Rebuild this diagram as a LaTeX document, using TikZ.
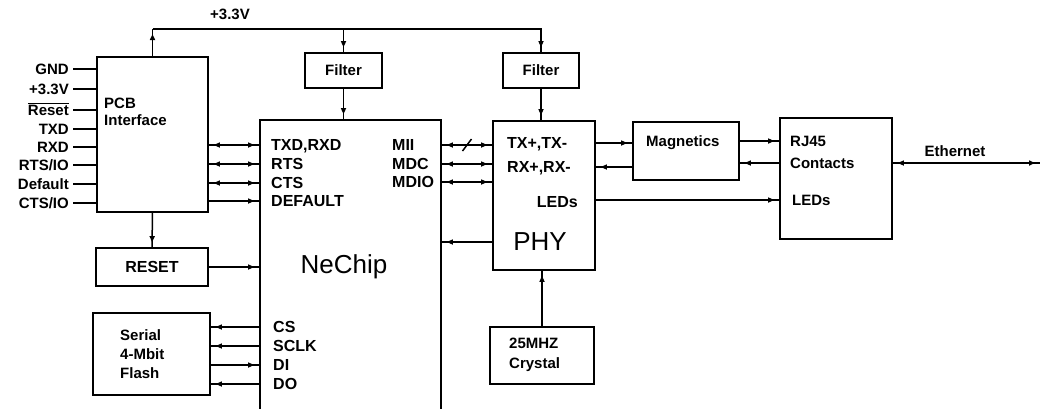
\documentclass[tikz,border=0pt]{standalone}
\usepackage{fontspec}
\setmainfont{Liberation Sans}
\usetikzlibrary{arrows.meta, decorations.markings}
\tikzset{
  % outlined block
  BX/.style={rectangle,draw,line width=1.7pt,inner sep=0pt,
             font=\fontsize{15}{15}\selectfont\bfseries},
  % pin names at the interface
  PN/.style={inner sep=0pt,text height=10.5pt,text depth=0pt,
             font=\fontsize{15}{15}\selectfont\bfseries},
  % signal names inside the chips
  SL/.style={inner sep=0pt,text height=11.5pt,text depth=0pt,
             font=\fontsize{16}{16}\selectfont\bfseries},
  % free text
  TL/.style={inner sep=0pt,align=left,
             font=\fontsize{15}{19}\selectfont\bfseries},
  % chip names
  BIG/.style={inner sep=0pt,font=\fontsize{26}{26}\selectfont},
  % wires
  Ln/.style={line width=1.5pt},
  Arr/.style={Ln,postaction={decorate},decoration={markings,
      mark=at position -5pt with {\arrow{Triangle[length=6pt,width=5pt]}}}},
  RArr/.style={Ln,postaction={decorate},decoration={markings,
      mark=at position 5pt with {\arrowreversed{Triangle[length=6pt,width=5pt]}}}},
  BArr/.style={Ln,postaction={decorate},decoration={markings,
      mark=at position 5pt with {\arrowreversed{Triangle[length=6pt,width=5pt]}},
      mark=at position -5pt with {\arrow{Triangle[length=6pt,width=5pt]}}}},
}
\begin{document}
\begin{tikzpicture}[x=1pt,y=-1pt]
  \useasboundingbox (0,0) rectangle (1042,408);
  \clip (0,0) rectangle (1042,408);
  % supply rail
  \node[TL] at (230,14) (v33) {+3.3V};
  \coordinate (bus) at (0,29);
  % PCB interface with its pins
  \node[BX,minimum width=111pt,minimum height=155pt] at (152.5,134.5) (pcb) {};
  \node[TL,anchor=west,font=\fontsize{15}{17}\selectfont\bfseries]
        at (104,111.5) (pcbt) {PCB\\Interface};
  \foreach \y/\t [count=\i] in {69/GND,89/+3.3V,110/{$\overline{\mbox{Reset}}$},
      129/TXD,147/RXD,165/{RTS/IO},184/Default,203/{CTS/IO}}
  {
    \node[PN,anchor=east] at (69,\y) (p\i) {\t};
    \draw[Ln] ([xshift=4pt]p\i.east) -- (p\i.east -| pcb.west);
  }
  % filters on the rail
  \node[BX,minimum width=77pt,minimum height=35pt] at (343.5,70.5) (f1) {Filter};
  \node[BX,minimum width=76pt,minimum height=35pt] at (541,70.5) (f2) {Filter};
  \draw[Arr] (pcb.north) -- (pcb.north |- bus);
  \draw[Arr] (pcb.north |- bus) -| (f2.north);
  \draw[Arr] (f1.north |- bus) -- (f1.north);
  % NeChip
  \node[BX,minimum width=181pt,minimum height=320pt] at (350.5,280) (ne) {};
  \node[BIG] at (344,267) (nel) {NeChip};
  \draw[Arr] (f1.south) -- (f1.south |- ne.north);
  \foreach \y/\t [count=\i] in {145/{TXD,RXD},164/RTS,183/CTS,201/DEFAULT}
    \node[SL,anchor=west] at (271,\y) (n\i) {\t};
  \foreach \y/\t [count=\i] in {145/MII,164/MDC,182/MDIO}
    \node[SL,anchor=west] at (392,\y) (m\i) {\t};
  \foreach \y/\t [count=\i] in {327/CS,346/SCLK,365/DI,384/DO}
    \node[SL,anchor=west] at (273,\y) (s\i) {\t};
  \foreach \i in {1,2,3}
    \draw[BArr] (n\i.west -| pcb.east) -- (n\i.west -| ne.west);
  \draw[Arr] (n4.west -| pcb.east) -- (n4.west -| ne.west);
  % reset
  \node[BX,font=\fontsize{16}{16}\selectfont\bfseries,
        minimum width=112pt,minimum height=38pt] at (152,267) (rst) {RESET};
  \draw[Arr] (pcb.south) -- (rst.north);
  \draw[Arr] (rst.east) -- (rst.east -| ne.west);
  % serial flash
  \node[BX,minimum width=117pt,minimum height=82pt] at (151.5,354) (fl) {};
  \node[TL,anchor=west] at (120,354) (flt) {Serial\\4-Mbit\\Flash};
  \draw[RArr] (s1.west -| fl.east) -- (s1.west -| ne.west);
  \draw[RArr] (s2.west -| fl.east) -- (s2.west -| ne.west);
  \draw[Arr]  (s3.west -| fl.east) -- (s3.west -| ne.west);
  \draw[RArr] (s4.west -| fl.east) -- (s4.west -| ne.west);
  % PHY
  \node[BX,minimum width=102pt,minimum height=149pt] at (544,195.5) (phy) {};
  \node[SL,anchor=west] at (507,143) (tx) {TX+,TX-};
  \node[SL,anchor=west] at (507,167) (rx) {RX+,RX-};
  \node[SL,anchor=east] at (578,202) (pled) {LEDs};
  \node[BIG] at (540,242) (phyl) {PHY};
  \draw[Arr] (f2.south) -- (f2.south |- phy.north);
  \draw[BArr] (m1.west -| ne.east) -- coordinate (sl) (m1.west -| phy.west);
  \draw[Ln] ([shift={(-4.5,6)}]sl) -- ([shift={(4.5,-6)}]sl);
  \draw[BArr] (m2.west -| ne.east) -- (m2.west -| phy.west);
  \draw[BArr] (m3.west -| ne.east) -- (m3.west -| phy.west);
  \draw[Arr] (phyl -| phy.west) -- (phyl -| ne.east);
  % crystal
  \node[BX,minimum width=104pt,minimum height=57pt] at (542,355.5) (xt) {};
  \node[TL,anchor=west,font=\fontsize{15}{20}\selectfont\bfseries]
        at (509,355) (xtt) {25MHZ\\Crystal};
  \draw[Arr] (xt.north) -- (xt.north |- phy.south);
  % magnetics
  \node[BX,minimum width=106pt,minimum height=58pt] at (686,151) (mag) {};
  \node[TL,anchor=west] at (646,143) (magt) {Magnetics};
  \draw[Arr] (tx.east -| phy.east) -- (tx.east -| mag.west);
  \draw[Arr] (rx.east -| mag.west) -- (rx.east -| phy.east);
  % RJ45 and line side
  \node[BX,minimum width=112pt,minimum height=121pt] at (836,178.5) (rj) {};
  \node[SL,font=\fontsize{15}{15}\selectfont\bfseries,anchor=west]
        at (790,141) (r1) {RJ45};
  \node[SL,font=\fontsize{15}{15}\selectfont\bfseries,anchor=west]
        at (790,163) (r2) {Contacts};
  \node[SL,font=\fontsize{15}{15}\selectfont\bfseries,anchor=west]
        at (792,200) (rled) {LEDs};
  \draw[Arr] (r1.west -| mag.east) -- (r1.west -| rj.west);
  \draw[Arr] (r2.west -| rj.west) -- (r2.west -| mag.east);
  \draw[Arr] (rled.west -| phy.east) -- (rled.west -| rj.west);
  \node[TL] at (955,151) (eth) {Ethernet};
  \coordinate (eend) at (1040,163);
  \draw[BArr] (eend -| rj.east) -- (eend);
\end{tikzpicture}
\end{document}
